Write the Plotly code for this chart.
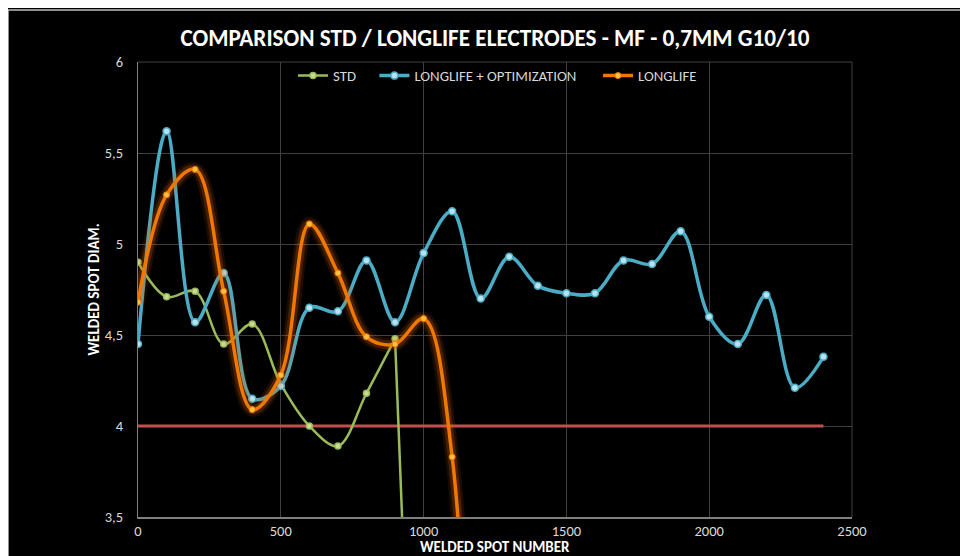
import plotly.graph_objects as go

title_text = "COMPARISON STD / LONGLIFE ELECTRODES - MF - 0,7MM G10/10"

std_x = [0, 100, 200, 300, 400, 500, 600, 700, 800, 900, 1000]
std_y = [4.90, 4.71, 4.74, 4.45, 4.56, 4.23, 4.00, 3.89, 4.18, 4.48, 0.5]

opt_x = [0, 100, 200, 300, 400, 500, 600, 700, 800, 900, 1000, 1100, 1200,
         1300, 1400, 1500, 1600, 1700, 1800, 1900, 2000, 2100, 2200, 2300, 2400]
opt_y = [4.45, 5.62, 4.57, 4.84, 4.15, 4.22, 4.65, 4.63, 4.91, 4.57, 4.95, 5.18, 4.70,
         4.93, 4.77, 4.73, 4.73, 4.91, 4.89, 5.07, 4.60, 4.45, 4.72, 4.21, 4.38]

ll_x = [0, 100, 200, 300, 400, 500, 600, 700, 800, 900, 1000, 1100, 1200]
ll_y = [4.68, 5.27, 5.41, 4.74, 4.09, 4.28, 5.11, 4.84, 4.49, 4.45, 4.59, 3.83, 0.0]

limit_x = [0, 2400]
limit_y = [4.0, 4.0]

x_ticks = [0, 500, 1000, 1500, 2000, 2500]
y_ticks = [3.5, 4, 4.5, 5, 5.5, 6]

FONT = "Carlito, Lato, sans-serif"
SMOOTH = 1.0
NB = "\u00a0"

# page offset of 8px (body margin): figure drawn at (8,8)
W, H = 960, 548
ML, MR, MT, MB = 130, 116, 54, 39
PW = W - ML - MR
PH = H - MT - MB

def px_x(page_x):
    return (page_x - 8 - ML) / PW

def px_y(page_y):
    return 1 - (page_y - 8 - MT) / PH

fig = go.Figure()

fig.add_trace(go.Scatter(x=limit_x, y=limit_y, mode="lines",
                         line=dict(color="#C0504D", width=3),
                         showlegend=False, hoverinfo="skip"))

# STD: smooth part + final steep drop segment
fig.add_trace(go.Scatter(x=std_x[-2:], y=std_y[-2:], mode="lines",
                         line=dict(color="#9BBB59", width=2.5),
                         showlegend=False, hoverinfo="skip"))
fig.add_trace(go.Scatter(x=std_x[:-1], y=std_y[:-1], mode="lines+markers", name="STD" + NB * 4,
                         line=dict(color="#9BBB59", width=2.5, shape="spline", smoothing=SMOOTH),
                         marker=dict(size=6, color="#C8DC96", line=dict(color="#9BBB59", width=1.5))))

fig.add_trace(go.Scatter(x=opt_x, y=opt_y, mode="lines+markers", name="LONGLIFE + OPTIMIZATION" + NB * 5,
                         line=dict(color="#4BACC6", width=3.5, shape="spline", smoothing=SMOOTH),
                         marker=dict(size=7, color="#B7E2EE", line=dict(color="#4BACC6", width=1.5))))

for w, a in [(14, 0.12), (9, 0.22)]:
    fig.add_trace(go.Scatter(x=ll_x, y=ll_y, mode="lines",
                             line=dict(color=f"rgba(230,100,0,{a})", width=w, shape="spline", smoothing=SMOOTH),
                             showlegend=False, hoverinfo="skip"))

fig.add_trace(go.Scatter(x=ll_x, y=ll_y, mode="lines+markers", name="LONGLIFE",
                         line=dict(color="#F07800", width=3.5, shape="spline", smoothing=SMOOTH),
                         marker=dict(size=6, color="#FFC040", line=dict(color="#F07800", width=1))))

fig.update_layout(
    width=W, height=H,
    paper_bgcolor="#000000", plot_bgcolor="#000000",
    margin=dict(l=ML, r=MR, t=MT, b=MB, autoexpand=False),
    separators=", ",
    font=dict(family=FONT, color="#D9D9D9", size=14.5),
    title=dict(text=f"<b>{title_text}</b>", x=0.5, xanchor="center", xref="paper",
               y=1 - (38 - 8) / H, yanchor="middle", yref="container",
               font=dict(family=FONT, size=23.2, color="#FFFFFF")),
    legend=dict(orientation="h", x=px_x(293), xanchor="left", y=px_y(76), yanchor="middle",
                bgcolor="rgba(0,0,0,0)", font=dict(size=14.8, color="#D9D9D9")),
    showlegend=True,
    shapes=[
        dict(type="line", xref="paper", yref="paper", x0=px_x(8), x1=px_x(8), y0=px_y(10), y1=px_y(600),
             line=dict(color="#BFBFBF", width=1.5)),
        dict(type="line", xref="paper", yref="paper", x0=px_x(8), x1=px_x(1000), y0=px_y(10), y1=px_y(10),
             line=dict(color="#BFBFBF", width=1.5)),
        dict(type="line", xref="paper", yref="paper", x0=1, x1=1, y0=0, y1=1,
             line=dict(color="#404040", width=1)),
        dict(type="line", xref="paper", yref="paper", x0=0, x1=1, y0=1, y1=1,
             line=dict(color="#404040", width=1)),
    ],
    annotations=[
        dict(text="<b>WELDED SPOT NUMBER</b>", xref="paper", yref="paper", x=0.5, y=px_y(547),
             xanchor="center", yanchor="middle", showarrow=False,
             font=dict(family=FONT, size=15, color="#FFFFFF")),
        dict(text="<b>WELDED SPOT DIAM.</b>", xref="paper", yref="paper", x=px_x(93), y=0.5,
             xanchor="center", yanchor="middle", showarrow=False, textangle=-90,
             font=dict(family=FONT, size=15, color="#FFFFFF")),
    ],
)

fig.update_xaxes(range=[0, 2500], tickvals=x_ticks, showgrid=True, gridcolor="#404040", gridwidth=1,
                 zeroline=False, showline=True, linecolor="#7F7F7F", linewidth=1.5,
                 ticks="", automargin=False, tickfont=dict(size=14.5, color="#D9D9D9"))
fig.update_yaxes(range=[3.5, 6], tickvals=y_ticks, showgrid=True, gridcolor="#404040", gridwidth=1,
                 zeroline=False, showline=True, linecolor="#7F7F7F", linewidth=1,
                 ticks="", automargin=False, tickfont=dict(size=14.5, color="#D9D9D9"),
                 ticklabelstandoff=11)

fig.write_html("out.html")
